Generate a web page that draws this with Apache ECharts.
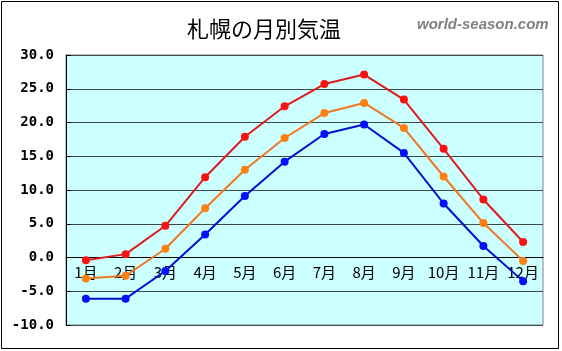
<!DOCTYPE html>
<html><head><meta charset="utf-8">
<script src="https://cdn.jsdelivr.net/npm/echarts@6/dist/echarts.min.js"></script>
<style>html,body{margin:0;padding:0;background:#fff}#c{width:562px;height:351px}</style>
</head><body><div id="c"></div>
<script>
const categories = ['1月','2月','3月','4月','5月','6月','7月','8月','9月','10月','11月','12月'];
const highTemps = [-0.4, 0.5, 4.7, 11.9, 17.9, 22.4, 25.7, 27.1, 23.4, 16.1, 8.6, 2.3];
const meanTemps = [-3.1, -2.7, 1.3, 7.3, 13.0, 17.7, 21.4, 22.9, 19.2, 12.0, 5.1, -0.5];
const lowTemps  = [-6.1, -6.1, -2.0, 3.4, 9.1, 14.2, 18.3, 19.7, 15.5, 8.0, 1.7, -3.5];
const yTicks = [-10, -5, 0, 5, 10, 15, 20, 25, 30];
const titleText = '札幌の月別気温';
const siteText = 'world-season.com';

const gridTop = 55, gridBottom = 26, H = 351;
const plotH = H - gridTop - gridBottom;
const yMin = yTicks[0], yMax = yTicks[yTicks.length - 1];
const zeroOffset = -plotH * (0 - yMin) / (yMax - yMin);

const chart = echarts.init(document.getElementById('c'), null, {renderer: 'canvas'});
function mk(name, data, lineColor, dotColor) {
  return {
    name, type: 'line', data,
    symbol: 'circle', symbolSize: 8,
    lineStyle: {color: lineColor, width: 2},
    itemStyle: {color: dotColor},
    z: 5, animation: false
  };
}
chart.setOption({
  animation: false,
  title: [
    {text: titleText, left: 182, top: 13, textStyle: {fontFamily: 'Noto Sans CJK JP', fontSize: 22, fontWeight: 'normal', color: '#000'}},
    {text: siteText, left: 412, top: 12, textStyle: {fontFamily: 'Liberation Sans', fontSize: 15, fontStyle: 'italic', fontWeight: 'bold', color: '#808080'}}
  ],
  graphic: [{type: 'rect', shape: {x: 1.5, y: 1.5, width: 557, height: 347}, style: {fill: 'none', stroke: '#000', lineWidth: 1}, z: 100}],
  grid: {left: 66, right: 19, top: gridTop, bottom: gridBottom, show: true, backgroundColor: '#ccffff', borderColor: '#808080', borderWidth: 1},
  xAxis: {
    type: 'category', data: categories, boundaryGap: true, offset: zeroOffset,
    axisLine: {onZero: false, lineStyle: {color: '#000', width: 1}},
    axisTick: {inside: true, length: 5, lineStyle: {color: '#000'}},
    axisLabel: {interval: 0, color: '#000', fontFamily: 'Noto Sans CJK JP', fontSize: 15, margin: 7}
  },
  yAxis: {
    type: 'value', min: yMin, max: yMax, interval: 5,
    axisLine: {show: true, lineStyle: {color: '#000'}},
    axisTick: {show: true, inside: true, length: 5, lineStyle: {color: '#000'}},
    splitLine: {show: true, lineStyle: {color: '#3c4c4c', width: 1}},
    axisLabel: {color: '#000', fontFamily: 'DejaVu Sans Mono', fontWeight: 'bold', fontSize: 14, margin: 12,
      formatter: v => v.toFixed(1)}
  },
  series: [
    mk('最高気温', highTemps, '#dd1c1c', '#ff1010'),
    mk('平均気温', meanTemps, '#f07820', '#ff8010'),
    mk('最低気温', lowTemps, '#0010d0', '#0010ff')
  ]
});
</script></body></html>
